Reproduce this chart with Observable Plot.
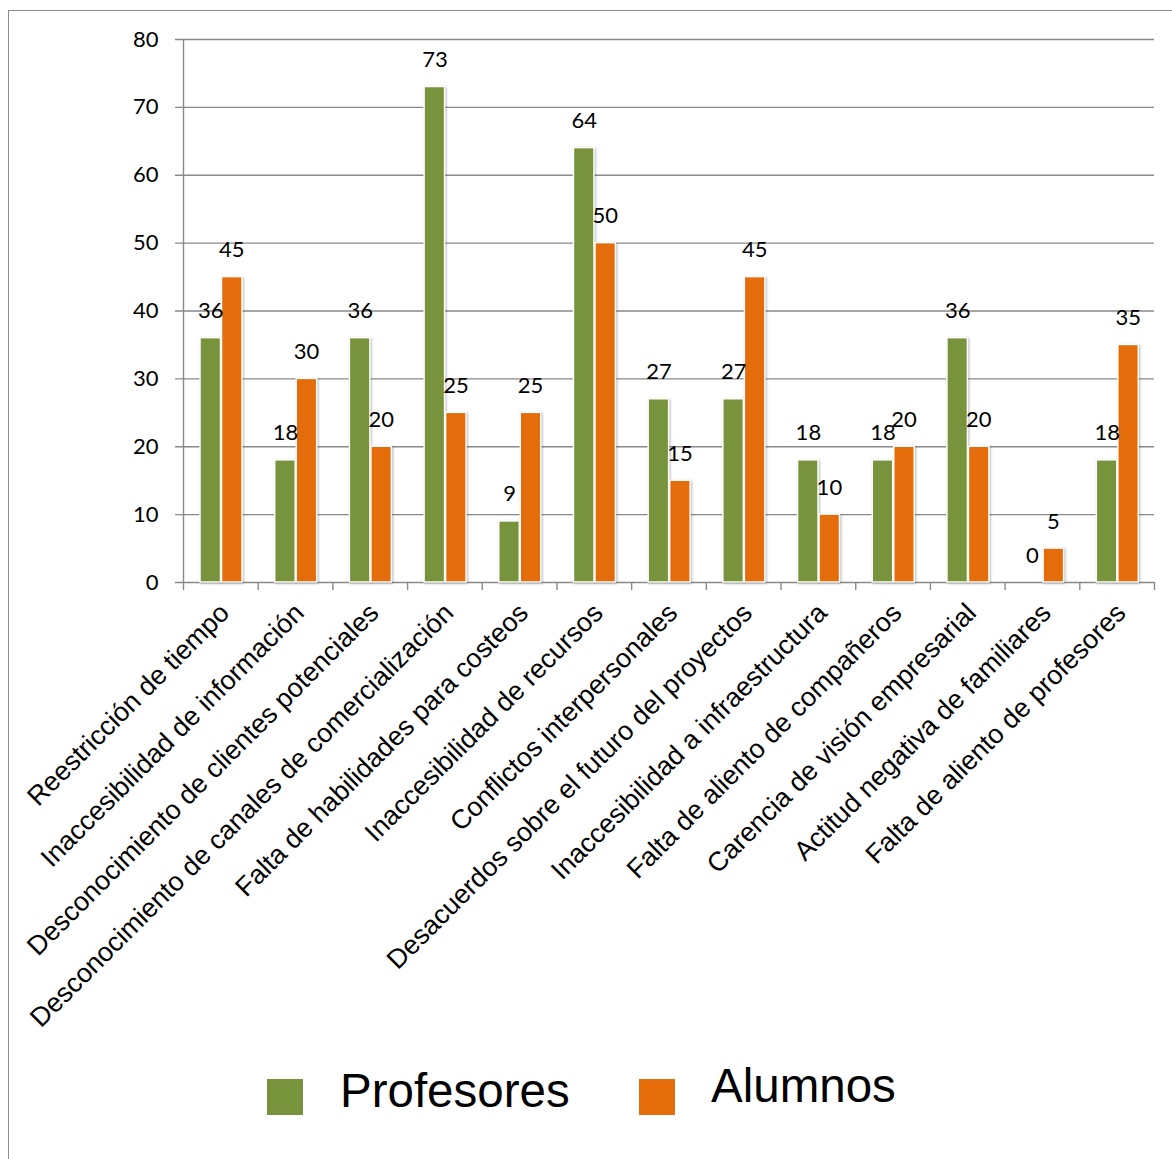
<!DOCTYPE html>
<html>
<head>
<meta charset="utf-8">
<script src="https://cdn.jsdelivr.net/npm/d3@7"></script>
<script src="https://cdn.jsdelivr.net/npm/@observablehq/plot@0.6"></script>
<style>
  html, body { margin: 0; padding: 0; background: #fff; overflow: hidden; }
  #chart { position: relative; width: 1172px; height: 1159px; }
  #border { position: absolute; left: 8px; top: 10px; width: 1400px; height: 1400px;
            border: 1.5px solid #8c8c8c; pointer-events: none; }
  #chart svg g[aria-label="bar"] { filter: drop-shadow(1.5px 1px 1.2px rgba(0,0,0,0.28)); }
  .key { position: absolute; width: 36px; height: 36px; }
  .key-label { position: absolute; font-family: "Liberation Sans", Arial, sans-serif;
               font-size: 47.5px; line-height: 47px; color: #000; white-space: nowrap; }
</style>
</head>
<body>
<div id="chart"><div id="border"></div></div>
<script>
// Obstacles reported by teachers and students (%)
const categories = [
  "Reestricción de tiempo",
  "Inaccesibilidad de información",
  "Desconocimiento de clientes potenciales",
  "Desconocimiento de canales de comercialización",
  "Falta de habilidades para costeos",
  "Inaccesibilidad de recursos",
  "Conflictos interpersonales",
  "Desacuerdos sobre el futuro del proyectos",
  "Inaccesibilidad a infraestructura",
  "Falta de aliento de compañeros",
  "Carencia de visión empresarial",
  "Actitud negativa de familiares",
  "Falta de aliento de profesores"
];
const profesores = [36, 18, 36, 73, 9, 64, 27, 27, 18, 18, 36, 0, 18];
const alumnos    = [45, 30, 20, 25, 25, 50, 15, 45, 10, 20, 20, 5, 35];
const series = ["Profesores", "Alumnos"];
const colors = ["#77933C", "#E46C0A"];
const yTicks = [0, 10, 20, 30, 40, 50, 60, 70, 80];

const W = 1172, H = 1040;
const mL = 183, mR = 18, mT = 39, mB = H - 582;
const step = (W - mL - mR) / categories.length;
const grey = "#898989";

const rows = [];
categories.forEach((c, i) => {
  rows.push({category: c, serie: series[0], value: profesores[i]});
  rows.push({category: c, serie: series[1], value: alumnos[i]});
});
const prof = rows.filter(d => d.serie === series[0]);
const alum = rows.filter(d => d.serie === series[1]);

const numFont = "Lato, 'Open Sans', sans-serif";
const txtFont = "'Liberation Sans', Arial, sans-serif";

const chart = Plot.plot({
  width: W,
  height: H,
  marginLeft: mL,
  marginRight: mR,
  marginTop: mT,
  marginBottom: mB,
  x: {type: "band", domain: categories, padding: 0, round: false, axis: null},
  y: {domain: [0, 80], axis: null},
  marks: [
    // horizontal gridlines, extended left as tick marks
    Plot.ruleY(yTicks, {stroke: grey, strokeWidth: 1.4, insetLeft: -8}),
    // vertical axis line
    Plot.ruleX([categories[0]], {y1: 0, y2: 80, dx: -step / 2, stroke: grey, strokeWidth: 1.4}),
    // category boundary ticks
    Plot.ruleX(categories, {y1: 0, y2: 0, dx: -step / 2, insetBottom: -8, stroke: grey, strokeWidth: 1.4}),
    Plot.ruleX([categories[categories.length - 1]], {y1: 0, y2: 0, dx: step / 2, insetBottom: -8, stroke: grey, strokeWidth: 1.4}),
    // y tick labels
    Plot.axisY({ticks: yTicks, label: null, tickSize: 0, tickPadding: 25, fontSize: 22, fontFamily: numFont, fill: "#000", stroke: null}),
    // bars
    Plot.barY(prof, {x: "category", y: "value", fill: colors[0], stroke: "#fff", strokeWidth: 1.5,
                     insetLeft: 17, insetRight: step - 17 - 20.5}),
    Plot.barY(alum, {x: "category", y: "value", fill: colors[1], stroke: "#fff", strokeWidth: 1.5,
                     insetLeft: 38.5, insetRight: step - 38.5 - 20.5}),
    // value labels
    Plot.text(prof, {x: "category", y: "value", text: d => String(d.value), dx: -10, dy: -20,
                     lineAnchor: "bottom", fontSize: 22, fontFamily: numFont, fill: "#000"}),
    Plot.text(alum, {x: "category", y: "value", text: d => String(d.value), dx: 11, dy: -20,
                     lineAnchor: "bottom", fontSize: 22, fontFamily: numFont, fill: "#000"}),
    // rotated category labels
    Plot.text(categories, {x: d => d, frameAnchor: "bottom", text: d => d, rotate: -45,
                           textAnchor: "end", lineAnchor: "middle", dx: 4, dy: 26,
                           fontSize: 26.8, fontFamily: txtFont, fill: "#000"})
  ]
});
document.getElementById("chart").appendChild(chart);

// legend below the plot
const legendPos = [
  {key: 267, text: 340, top: 1067},
  {key: 639, text: 711, top: 1062}
];
const chartDiv = document.getElementById("chart");
series.forEach((s, i) => {
  const k = document.createElement("div");
  k.className = "key";
  k.style.left = legendPos[i].key + "px";
  k.style.top = "1079px";
  k.style.background = colors[i];
  chartDiv.appendChild(k);
  const t = document.createElement("div");
  t.className = "key-label";
  t.style.left = legendPos[i].text + "px";
  t.style.top = legendPos[i].top + "px";
  t.textContent = s;
  chartDiv.appendChild(t);
});
</script>
</body>
</html>
